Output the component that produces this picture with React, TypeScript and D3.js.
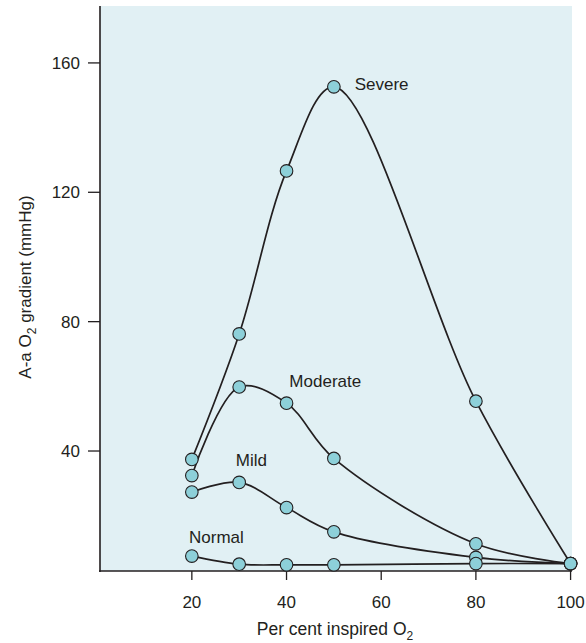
import { useMemo } from 'react';
import * as d3 from 'd3';

// inspired O2 (%) at which each series was measured
const oxygen = [20, 30, 40, 50, 80, 100];

// A-a O2 gradient (mmHg) per shunt severity
const severe = [37.4, 76.2, 126.6, 152.6, 55.4, 5.2];
const moderate = [32.4, 59.8, 54.8, 37.7, 11.3, 5.2];
const mild = [27.3, 30.3, 22.5, 15.0, 7.1, 5.2];
const normal = [7.5, 5.0, 4.8, 4.8, 5.2, 5.2];

const seriesNames = ['Severe', 'Moderate', 'Mild', 'Normal'];
const xTicks = [20, 40, 60, 80, 100];
const yTicks = [40, 80, 120, 160];

const W = 586;
const H = 643;
const FONT = '"Liberation Sans", Arial, sans-serif';
const INK = '#231f20';

export default function App() {
  const x = d3.scaleLinear().domain([0.6, 100.3]).range([100, 572]);
  const y = d3.scaleLinear().domain([2.9, 177.6]).range([571, 6]);

  const series = useMemo(
    () =>
      [severe, moderate, mild, normal].map((vals, i) => ({
        name: seriesNames[i],
        points: vals.map((v, j) => ({ x: oxygen[j], y: v })),
      })),
    []
  );

  const line = d3
    .line<{ x: number; y: number }>()
    .x(d => x(d.x))
    .y(d => y(d.y))
    .curve(d3.curveCatmullRom.alpha(0.5));

  // label anchors (data coords) next to each curve
  const labelPos: Record<string, [number, number]> = {
    Severe: [54.4, 151.6],
    Moderate: [40.6, 59.8],
    Mild: [29.3, 35.3],
    Normal: [19.4, 11.6],
  };

  return (
    <svg width={W} height={H} style={{ position: 'absolute', left: 0, top: 0, background: '#fff' }}>
      <rect
        x={x.range()[0]}
        y={y.range()[1]}
        width={x.range()[1] - x.range()[0]}
        height={y.range()[0] - y.range()[1]}
        fill="#e1f0f4"
      />

      {/* curves */}
      {series.map(s => (
        <path key={s.name} d={line(s.points) || ''} fill="none" stroke={INK} strokeWidth={1.7} />
      ))}

      {/* axes */}
      <line x1={100} x2={100} y1={y.range()[1]} y2={y.range()[0] + 1} stroke={INK} strokeWidth={1.6} />
      <line x1={99} x2={x.range()[1]} y1={571} y2={571} stroke={INK} strokeWidth={1.6} />
      {yTicks.map(t => (
        <g key={t}>
          <line x1={88} x2={100} y1={y(t)} y2={y(t)} stroke={INK} strokeWidth={1.3} />
          <text x={80} y={y(t)} dy="0.36em" textAnchor="end" fontFamily={FONT} fontSize={17} fill={INK}>
            {t}
          </text>
        </g>
      ))}
      {xTicks.map(t => (
        <g key={t}>
          <line x1={x(t)} x2={x(t)} y1={571} y2={580} stroke={INK} strokeWidth={1.3} />
          <text x={x(t)} y={608} textAnchor="middle" fontFamily={FONT} fontSize={17} fill={INK}>
            {t}
          </text>
        </g>
      ))}

      {/* points */}
      {series.map(s =>
        s.points.map((p, j) => (
          <circle key={s.name + j} cx={x(p.x)} cy={y(p.y)} r={6.3} fill="#8dd0d9" stroke={INK} strokeWidth={1.1} />
        ))
      )}

      {/* series labels */}
      {series.map(s => {
        const [lx, ly] = labelPos[s.name];
        return (
          <text key={s.name} x={x(lx)} y={y(ly)} fontFamily={FONT} fontSize={17} fill={INK}>
            {s.name}
          </text>
        );
      })}

      {/* axis titles */}
      <text x={335} y={635} textAnchor="middle" fontFamily={FONT} fontSize={17.5} fill={INK}>
        Per cent inspired O<tspan dy={5} fontSize={12}>2</tspan>
      </text>
      <text transform="translate(31,287) rotate(-90)" textAnchor="middle" fontFamily={FONT} fontSize={17} fill={INK}>
        A-a O<tspan dy={5} fontSize={12}>2</tspan>
        <tspan dy={-5}> gradient (mmHg)</tspan>
      </text>
    </svg>
  );
}
